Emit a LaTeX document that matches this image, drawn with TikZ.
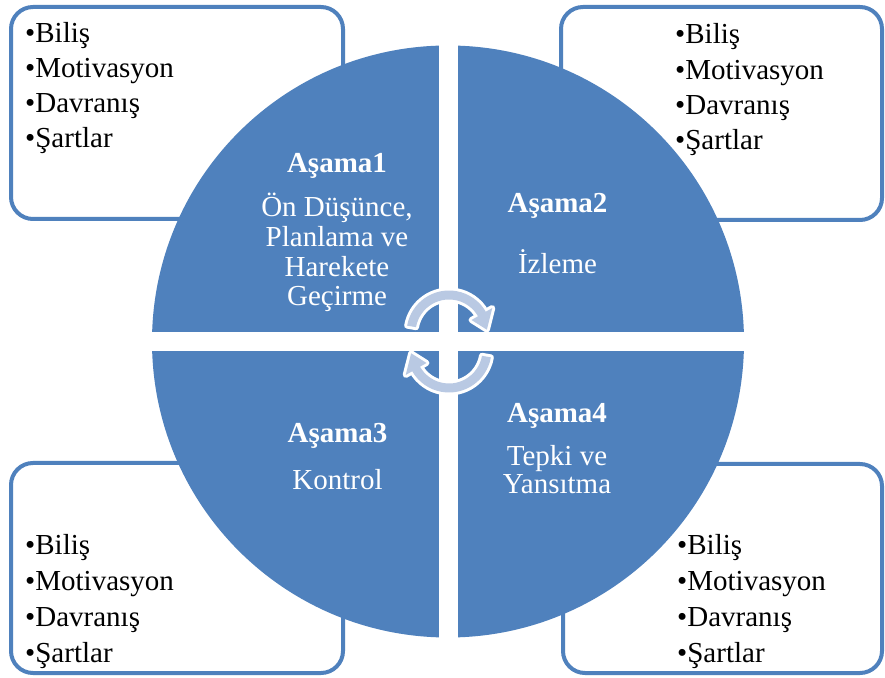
\documentclass[tikz,border=0pt]{standalone}
\usepackage{fontspec}
\setmainfont{Liberation Serif}
\definecolor{qblue}{RGB}{79,129,189}
\definecolor{arrlight}{RGB}{185,201,227}
\begin{document}
\begin{tikzpicture}[x=1pt,y=1pt,
  cornerbox/.style={draw=qblue, line width=4pt, rounded corners=22pt, fill=white},
  btxt/.style={font=\fontsize{29}{35}\selectfont, inner sep=0pt, anchor=base west, text=black},
  ctxt/.style={font=\fontsize{29}{30}\selectfont, inner sep=0pt, anchor=base, text=white},
  ctitle/.style={font=\fontsize{29}{30}\selectfont\bfseries, inner sep=0pt, anchor=base, text=white},
  cyclearrow/.style={fill=arrlight, preaction={draw=white, line width=6pt, line join=round}}
]
\useasboundingbox (0,0) rectangle (885,677);
\fill[white] (0,0) rectangle (885,677);

% corner boxes
\draw[cornerbox] (11,458) rectangle (343,670);
\draw[cornerbox] (561,457) rectangle (882,670);
\draw[cornerbox] (11,4) rectangle (343,214);
\draw[cornerbox] (563,4) rectangle (882,213);

% circle quadrants
\def\cx{448}\def\cy{335.5}\def\R{296}\def\g{9.5}
\begin{scope}
  \clip (\cx,\cy) circle (\R);
  \fill[qblue] (0,677) rectangle (\cx-\g,\cy+\g);
  \fill[qblue] (885,677) rectangle (\cx+\g,\cy+\g);
  \fill[qblue] (0,0) rectangle (\cx-\g,\cy-\g);
  \fill[qblue] (885,0) rectangle (\cx+\g,\cy-\g);
\end{scope}

% cycle arrows
\begin{scope}[shift={(449,344)}]
  \path[cyclearrow] (170:42.5) arc[start angle=170, end angle=30, radius=42.5]
    -- (30:50) -- (5:38) -- (30:26) -- (30:33.5)
    arc[start angle=30, end angle=170, radius=33.5] -- cycle;
\end{scope}
\begin{scope}[shift={(449,327)}, rotate=180]
  \path[cyclearrow] (170:42.5) arc[start angle=170, end angle=30, radius=42.5]
    -- (30:50) -- (5:38) -- (30:26) -- (30:33.5)
    arc[start angle=30, end angle=170, radius=33.5] -- cycle;
\end{scope}

% quadrant texts
\node[ctitle] (a1)   at (337,504) {Aşama1};
\node[ctxt]   (a1l1) at (337,460) {Ön Düşünce,};
\node[ctxt]   (a1l2) at (337,430) {Planlama ve};
\node[ctxt]   (a1l3) at (337,400) {Harekete};
\node[ctxt]   (a1l4) at (337,371) {Geçirme};

\node[ctitle] (a2)   at (557.5,464) {Aşama2};
\node[ctxt]   (a2l1) at (557.5,403) {İzleme};

\node[ctitle] (a3)   at (337.5,234) {Aşama3};
\node[ctxt]   (a3l1) at (337.5,187) {Kontrol};

\node[ctitle] (a4)   at (557,254) {Aşama4};
\node[ctxt]   (a4l1) at (557,211) {Tepki ve};
\node[ctxt]   (a4l2) at (557,183) {Yansıtma};

% box lists
\node[btxt] (tl1) at (25,634) {•Biliş};
\node[btxt] (tl2) at (25,599) {•Motivasyon};
\node[btxt] (tl3) at (25,564) {•Davranış};
\node[btxt] (tl4) at (25,529) {•Şartlar};

\node[btxt] (tr1) at (675,633) {•Biliş};
\node[btxt] (tr2) at (675,597) {•Motivasyon};
\node[btxt] (tr3) at (675,562) {•Davranış};
\node[btxt] (tr4) at (675,527) {•Şartlar};

\node[btxt] (bl1) at (25,122) {•Biliş};
\node[btxt] (bl2) at (25,87) {•Motivasyon};
\node[btxt] (bl3) at (25,51) {•Davranış};
\node[btxt] (bl4) at (25,15) {•Şartlar};

\node[btxt] (br1) at (677,122) {•Biliş};
\node[btxt] (br2) at (677,87) {•Motivasyon};
\node[btxt] (br3) at (677,51) {•Davranış};
\node[btxt] (br4) at (677,15) {•Şartlar};
\end{tikzpicture}
\end{document}
